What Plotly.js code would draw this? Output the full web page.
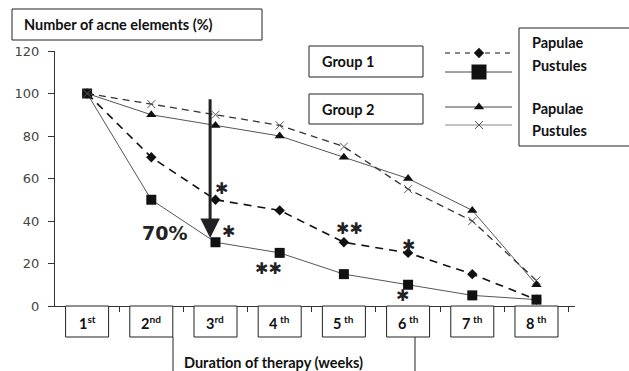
<!DOCTYPE html>
<html><head><meta charset="utf-8">
<script src="https://cdn.plot.ly/plotly-3.0.1.min.js"></script>
<style>html,body{margin:0;padding:0;background:#fff}#c{width:629px;height:371px}</style>
</head><body><div id="c"></div>
<script>
// ---- data ----
var weeks = [1, 2, 3, 4, 5, 6, 7, 8];
var weekLabels = ['1<sup>st</sup>', '2<sup>nd</sup>', '3<sup>rd</sup>', '4<sup> th</sup>', '5<sup> th</sup>', '6<sup> th</sup>', '7<sup> th</sup>', '8<sup> th</sup>'];
var group1Papulae  = [100, 70, 50, 45, 30, 25, 15, 3];
var group1Pustules = [100, 50, 30, 25, 15, 10, 5, 3];
var group2Papulae  = [100, 90, 85, 80, 70, 60, 45, 10];
var group2Pustules = [100, 95, 90, 85, 75, 55, 40, 12];
var yTicks = [0, 20, 40, 60, 80, 100, 120];
var yTitle = 'Number of acne elements (%)';
var xTitle = 'Duration of therapy (weeks)';
var groupNames = ['Group 1', 'Group 2'];
var seriesNames = ['Papulae', 'Pustules', 'Papulae', 'Pustules'];
var reductionLabel = '70%';

// ---- layout helpers (pixel -> paper) ----
var L = 55, R = 575, T = 51, B = 306;
function px(X) { return (X - L) / (R - L); }
function py(Y) { return (B - Y) / (B - T); }

var lblFont = {family: 'Lato, "Open Sans", sans-serif', size: 14.5, color: '#111', weight: 700};
var starFont = {family: '"DejaVu Sans", sans-serif', size: 16, color: '#222', weight: 700};

var traces = [
  {x: weeks, y: group1Papulae, name: seriesNames[0], mode: 'lines+markers', cliponaxis: false,
   line: {color: '#111', width: 1.6, dash: '8px,6px'}, marker: {symbol: 'diamond', size: 8, color: '#111'}},
  {x: weeks, y: group1Pustules, name: seriesNames[1], mode: 'lines+markers', cliponaxis: false,
   line: {color: '#555', width: 1}, marker: {symbol: 'square', size: 10, color: '#111'}},
  {x: weeks, y: group2Papulae, name: seriesNames[2], mode: 'lines+markers', cliponaxis: false,
   line: {color: '#555', width: 1}, marker: {symbol: 'triangle-up', size: 9, color: '#111'}},
  {x: weeks, y: group2Pustules, name: seriesNames[3], mode: 'lines+markers', cliponaxis: false,
   line: {color: '#333', width: 1.3, dash: '7px,5px'}, marker: {symbol: 'x-thin', size: 8, color: '#555', line: {color: '#555', width: 1}}}
];

// legend samples (drawn on a hidden pixel-space axis pair)
var legY = [53, 72, 107, 125];
var legLines = [
  {color: '#111', width: 1.2, dash: '5px,5px'},
  {color: '#444', width: 1},
  {color: '#444', width: 1},
  {color: '#888', width: 1}
];
traces.slice().forEach(function (t, i) {
  traces.push({
    x: [445, 479, 512], y: [legY[i], legY[i], legY[i]], xaxis: 'x2', yaxis: 'y2',
    mode: 'lines', line: legLines[i], showlegend: false, hoverinfo: 'skip', cliponaxis: false
  });
  var m = JSON.parse(JSON.stringify(t.marker));
  if (i === 1) m.size = 15;
  traces.push({
    x: [479], y: [legY[i]], xaxis: 'x2', yaxis: 'y2', mode: 'markers', marker: m,
    showlegend: false, hoverinfo: 'skip', cliponaxis: false
  });
});

function rectPx(x0, y0, x1, y1) {
  return {type: 'rect', xref: 'paper', yref: 'paper', x0: px(x0), x1: px(x1), y0: py(y0), y1: py(y1),
          line: {color: '#222', width: 1}, fillcolor: 'rgba(0,0,0,0)'};
}
function linePx(x0, y0, x1, y1) {
  return {type: 'line', xref: 'paper', yref: 'paper', x0: px(x0), x1: px(x1), y0: py(y0), y1: py(y1),
          line: {color: '#222', width: 1}};
}
var shapes = [
  rectPx(12, 9, 262, 40),
  rectPx(309, 46, 423, 77),
  rectPx(309, 94, 423, 124),
  rectPx(519, 28, 660, 146),
  linePx(173, 337, 173, 380),
  linePx(415, 337, 415, 380)
];
weeks.forEach(function (w) {
  shapes.push({type: 'rect', xref: 'x', yref: 'paper', x0: w - 0.335, x1: w + 0.335, y0: py(306), y1: py(337),
               line: {color: '#222', width: 1}, fillcolor: '#fff', layer: 'above'});
});

function textPx(txt, X, Y, font, xanchor) {
  return {text: txt, xref: 'paper', yref: 'paper', x: px(X), y: py(Y), xanchor: xanchor || 'left',
          yanchor: 'middle', showarrow: false, font: font};
}
function starPx(txt, X, Y) {
  var a = textPx(txt, X, Y, starFont, 'center');
  a.borderpad = 0;
  return a;
}
var annotations = [
  textPx(yTitle, 22, 25, lblFont),
  textPx(groupNames[0], 320, 62, lblFont),
  textPx(groupNames[1], 320, 109, lblFont),
  textPx(seriesNames[0], 530, 43, lblFont),
  textPx(seriesNames[1], 530, 65, lblFont),
  textPx(seriesNames[2], 530, 108, lblFont),
  textPx(seriesNames[3], 530, 130, lblFont),
  textPx(xTitle, 182, 362, lblFont),
  textPx(reductionLabel, 164, 233, {family: '"DejaVu Sans", sans-serif', size: 19, color: '#222', weight: 700}, 'center'),
  starPx('\u2731', 221, 188),
  starPx('\u2731', 228, 232),
  starPx('\u2731\u2731', 268, 268),
  starPx('\u2731\u2731', 349, 228),
  starPx('\u2731', 408, 245),
  starPx('\u2731', 402, 295),
  {x: 2.916, y: 32, ax: 2.916, ay: 98, xref: 'x', yref: 'y', axref: 'x', ayref: 'y', text: '',
   showarrow: true, arrowhead: 2, arrowsize: 1.3, arrowwidth: 3, arrowcolor: '#222', standoff: 0}
];
weeks.forEach(function (w, i) {
  annotations.push({text: weekLabels[i], xref: 'x', yref: 'paper', x: w, y: py(322), xanchor: 'center',
                    yanchor: 'middle', showarrow: false, font: lblFont});
});

var layout = {
  width: 629, height: 371,
  margin: {l: L, r: 629 - R, t: T, b: 371 - B, pad: 0},
  paper_bgcolor: '#fff', plot_bgcolor: '#fff',
  showlegend: false,
  xaxis: {range: [0.5, 8.6], tickvals: [1.5, 2.5, 3.5, 4.5, 5.5, 6.5, 7.5, 8.5], showticklabels: false,
          ticks: 'outside', ticklen: 5, tickcolor: '#333', showline: true, linecolor: '#333', linewidth: 1,
          showgrid: false, zeroline: false, fixedrange: true},
  yaxis: {range: [0, 120], tickvals: yTicks, ticks: 'outside', ticklen: 6, tickcolor: '#333',
          showline: true, linecolor: '#333', linewidth: 1, showgrid: false, zeroline: false,
          ticklabelstandoff: 6,
          tickfont: {family: '"DejaVu Sans", sans-serif', size: 13, color: '#444'}},
  xaxis2: {overlaying: 'x', range: [L, R], visible: false, fixedrange: true},
  yaxis2: {overlaying: 'y', range: [B, T], visible: false, fixedrange: true},
  shapes: shapes,
  annotations: annotations
};
Plotly.newPlot('c', traces, layout, {staticPlot: true});
</script></body></html>
